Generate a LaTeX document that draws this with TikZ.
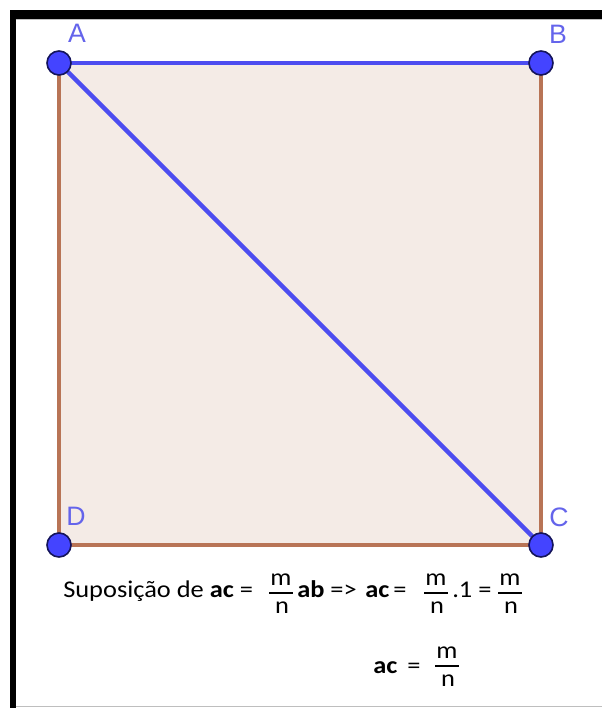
\documentclass[tikz,border=0pt]{standalone}
\usepackage{fontspec}
\setmainfont{Carlito}[FakeStretch=1.1]
\newfontfamily\labelfont{Liberation Sans}
\usetikzlibrary{positioning}
\definecolor{ggbblue}{RGB}{77,77,240}
\definecolor{ggbbrown}{RGB}{184,116,86}
\definecolor{ggbfill}{RGB}{244,235,230}
\definecolor{ggblabel}{RGB}{100,100,235}

% fraction m/n: name, centre x, bar y
\newcommand{\mfrac}[3]{%
	\node [txt, anchor=base] (#1m) at (#2,#3-8) {m};
	\node [txt, anchor=base] (#1n) at (#2+1,#3+20) {n};
	\draw [line width=1.2] (#2-12,#3) -- (#2+12,#3);
}

\begin{document}
\begin{tikzpicture}[x=0.75pt,y=0.75pt,yscale=-1,xscale=1,
	pnt/.style={circle, fill={rgb,255:red,68;green,68;blue,255}, draw={rgb,255:red,20;green,20;blue,90}, line width=1.2, minimum size=18, inner sep=0pt},
	lbl/.style={color=ggblabel, font=\labelfont\fontsize{20}{24}\selectfont, inner sep=0pt},
	txt/.style={font=\fontsize{18}{22}\selectfont, inner sep=0pt}]
	\useasboundingbox (0,0) rectangle (602,708);
	
	%Shape: Frame
	\fill [black] (10,10) rectangle (602,18.5);
	\fill [black] (10,10) rectangle (15.5,708);
	\draw [color={rgb, 255:red, 190; green, 190; blue, 190 }] (15.5,19.5) -- (602,19.5);
	\draw [color={rgb, 255:red, 190; green, 190; blue, 190 }] (15.5,706) -- (602,706);
	
	%Shape: Square
	\coordinate (A) at (59,63);
	\coordinate (B) at (541,63);
	\coordinate (C) at (541,545);
	\coordinate (D) at (59,545);
	\fill [ggbfill] (A) -- (B) -- (C) -- (D) -- cycle;
	\draw [ggbbrown, line width=3] (B) -- (C) -- (D) -- (A);
	%Straight Lines
	\draw [ggbblue, line width=3.3] (A) -- (B);
	\draw [ggbblue, line width=3.3] (A) -- (C);
	
	%Points
	\node [pnt] (pA) at (A) {};
	\node [pnt] (pB) at (B) {};
	\node [pnt] (pC) at (C) {};
	\node [pnt] (pD) at (D) {};
	
	% Text Node
	\node [lbl] (lA) at (77,33) {A};
	\node [lbl] (lB) at (558,34) {B};
	\node [lbl] (lC) at (559,517) {C};
	\node [lbl] (lD) at (76,516) {D};
	
	% Text Node
	\node [txt, anchor=base west] (t1) at (63,597) {Suposição de \textbf{ac} =};
	\mfrac{f1}{281}{593}
	\node [txt, anchor=base west] (t2) at (297,597) {\textbf{ab} =>};
	\node [txt, anchor=base west] (t3) at (365,597) {\textbf{ac}\,=};
	\mfrac{f2}{436}{593}
	\node [txt, anchor=base west] (t4) at (452,597) {.1 =};
	\mfrac{f3}{510}{593}
	
	% Text Node
	\node [txt, anchor=base west] (t5) at (373,673) {\textbf{ac} \,=};
	\mfrac{f4}{447}{666}
\end{tikzpicture}
\end{document}
